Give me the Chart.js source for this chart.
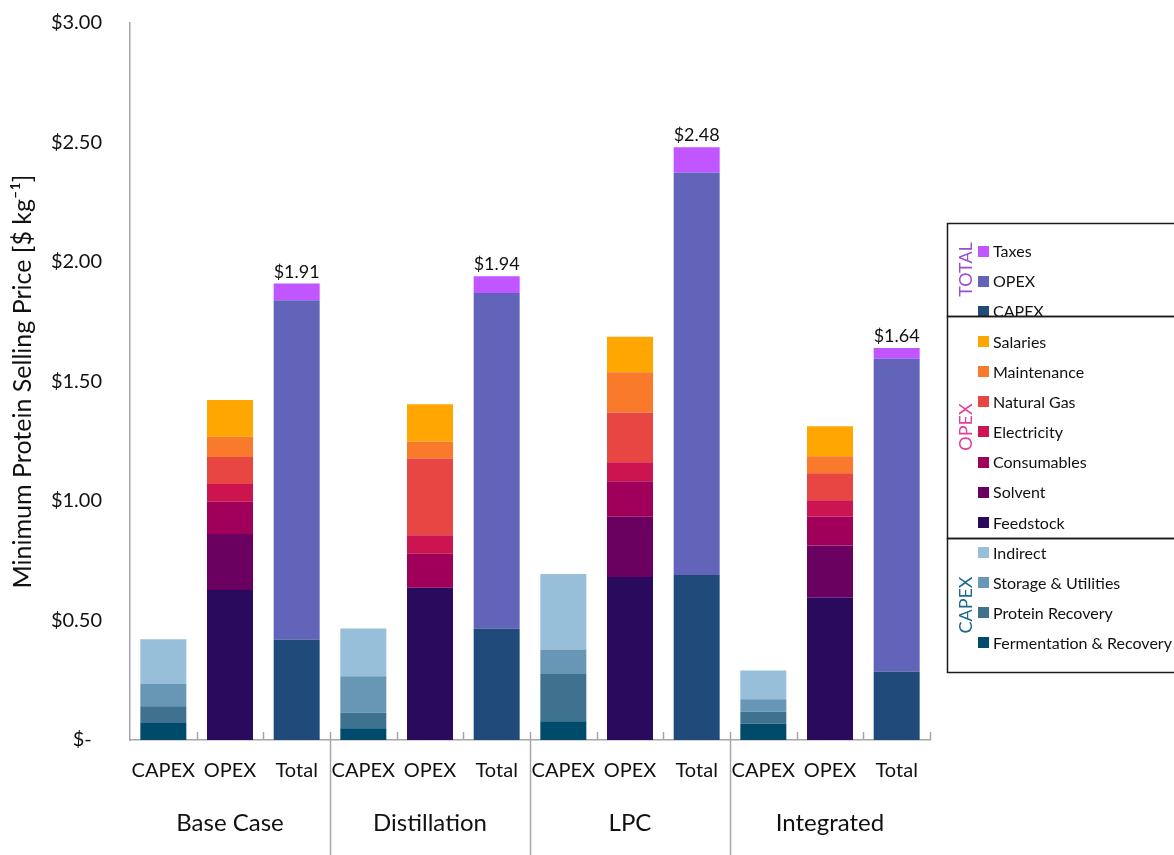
<!DOCTYPE html>
<html>
<head>
<meta charset="utf-8">
<script src="https://cdn.jsdelivr.net/npm/chart.js@4.4.1/dist/chart.umd.min.js"></script>
<style>
  html, body { margin: 0; padding: 0; background: #ffffff; }
  #wrap { position: relative; width: 1174px; height: 855px; }
  canvas { display: block; }
</style>
</head>
<body>
<div id="wrap"><canvas id="chart" width="1174" height="855"></canvas></div>
<script>
// Scenarios and bar kinds within each scenario
const groups = ['Base Case', 'Distillation', 'LPC', 'Integrated'];
const barKinds = ['CAPEX', 'OPEX', 'Total'];

// CAPEX breakdown ($ per kg)
const fermentationRecovery = [0.071, 0.049, 0.078, 0.068];
const proteinRecovery      = [0.070, 0.065, 0.198, 0.050];
const storageUtilities     = [0.093, 0.153, 0.103, 0.052];
const indirectCapex        = [0.188, 0.200, 0.316, 0.121];

// OPEX breakdown ($ per kg)
const feedstock   = [0.628, 0.637, 0.682, 0.595];
const solvent     = [0.234, 0.000, 0.252, 0.219];
const consumables = [0.135, 0.142, 0.149, 0.121];
const electricity = [0.074, 0.078, 0.079, 0.068];
const naturalGas  = [0.113, 0.321, 0.208, 0.113];
const maintenance = [0.085, 0.071, 0.169, 0.071];
const salaries    = [0.154, 0.156, 0.148, 0.126];

// Total price build-up ($ per kg)
const totalCapex = [0.420, 0.465, 0.690, 0.287];
const totalOpex  = [1.420, 1.405, 1.685, 1.308];
const taxes      = [0.070, 0.070, 0.105, 0.045];

// Y axis ticks
const yTicks = [0, 0.5, 1.0, 1.5, 2.0, 2.5, 3.0];

const FONT = 'Lato, "Open Sans", "DejaVu Sans", sans-serif';

// One label per bar: CAPEX / OPEX / Total for every scenario
const labels = groups.flatMap(() => barKinds);

// Place a scenario series on one bar kind (0 = CAPEX, 1 = OPEX, 2 = Total)
function onBar(values, kind) {
  return groups.flatMap((g, i) => barKinds.map((k, j) => (j === kind ? values[i] : null)));
}

function ds(label, values, kind, color, legendGroup) {
  return {
    label: label,
    data: onBar(values, kind),
    backgroundColor: color,
    borderWidth: 0,
    legendGroup: legendGroup,
    barKind: kind
  };
}

const datasets = [
  ds('Fermentation & Recovery', fermentationRecovery, 0, '#004b6b', 'CAPEX'),
  ds('Protein Recovery',        proteinRecovery,      0, '#3e728f', 'CAPEX'),
  ds('Storage & Utilities',     storageUtilities,     0, '#6897b5', 'CAPEX'),
  ds('Indirect',                indirectCapex,        0, '#98bfda', 'CAPEX'),
  ds('Feedstock',   feedstock,   1, '#290a5c', 'OPEX'),
  ds('Solvent',     solvent,     1, '#6a0060', 'OPEX'),
  ds('Consumables', consumables, 1, '#a1005a', 'OPEX'),
  ds('Electricity', electricity, 1, '#cc1450', 'OPEX'),
  ds('Natural Gas', naturalGas,  1, '#e84642', 'OPEX'),
  ds('Maintenance', maintenance, 1, '#f97a2a', 'OPEX'),
  ds('Salaries',    salaries,    1, '#ffa600', 'OPEX'),
  ds('CAPEX', totalCapex, 2, '#204a7a', 'TOTAL'),
  ds('OPEX',  totalOpex,  2, '#6264b9', 'TOTAL'),
  ds('Taxes', taxes,      2, '#c155ff', 'TOTAL')
];

const AXIS_GRAY = '#a6a6a6';

// Inner tick marks between bars, long separators between scenarios,
// scenario names, and price labels on top of the Total bars.
const decorations = {
  id: 'decorations',
  afterDatasetsDraw(chart) {
    const { ctx, scales: { x, y } } = chart;
    const base = y.getPixelForValue(0);
    const n = labels.length;
    ctx.save();
    ctx.strokeStyle = AXIS_GRAY;
    ctx.lineWidth = 1.5;
    for (let i = 1; i <= n; i++) {
      const px = i < n
        ? (x.getPixelForValue(i - 1) + x.getPixelForValue(i)) / 2
        : x.right;
      const bottom = (i % 3 === 0 && i < n) ? chart.height : base;
      ctx.beginPath();
      ctx.moveTo(Math.round(px) + 0.5, base - 8);
      ctx.lineTo(Math.round(px) + 0.5, bottom);
      ctx.stroke();
    }

    // scenario names under each group of three bars
    ctx.fillStyle = '#111111';
    ctx.font = '24px ' + FONT;
    ctx.textAlign = 'center';
    ctx.textBaseline = 'middle';
    groups.forEach((g, i) => {
      const cx = x.getPixelForValue(i * 3 + 1);
      ctx.fillText(g, cx, 823);
    });

    // price labels above the Total bars
    ctx.font = '18px ' + FONT;
    ctx.textBaseline = 'alphabetic';
    groups.forEach((g, i) => {
      const idx = i * 3 + 2;
      let sum = 0;
      chart.data.datasets.forEach(d => {
        if (d.barKind === 2 && d.data[idx] != null) sum += d.data[idx];
      });
      const top = y.getPixelForValue(sum);
      ctx.fillText('$' + sum.toFixed(2), x.getPixelForValue(idx), top - 6);
    });
    ctx.restore();
  }
};

// Grouped, boxed legend on the right
const groupedLegend = {
  id: 'groupedLegend',
  afterDraw(chart) {
    const { ctx } = chart;
    const order = chart.data.datasets.slice().reverse();
    const left = 947;
    const startY = 251;
    const step = 30.15;
    const boxes = [
      { name: 'TOTAL', color: '#9b4fcf', top: 223, bottom: 316 },
      { name: 'OPEX',  color: '#e0409a', top: 316, bottom: 538 },
      { name: 'CAPEX', color: '#1f6a8a', top: 538, bottom: 672 }
    ];
    ctx.save();
    ctx.textBaseline = 'middle';
    ctx.textAlign = 'left';
    ctx.font = '16px ' + FONT;
    order.forEach((d, i) => {
      const cy = startY + i * step;
      ctx.fillStyle = d.backgroundColor;
      ctx.fillRect(978, Math.round(cy - 5.5), 11, 11);
      ctx.fillStyle = '#111111';
      ctx.fillText(d.label, 993, cy + 1);
    });

    // rotated group names, centred in their boxes
    ctx.font = '18px ' + FONT;
    ctx.textAlign = 'center';
    boxes.forEach(b => {
      ctx.save();
      ctx.translate(966, (b.top + b.bottom) / 2);
      ctx.rotate(-Math.PI / 2);
      ctx.fillStyle = b.color;
      ctx.fillText(b.name, 0, 0);
      ctx.restore();
    });

    // box outlines drawn last
    ctx.strokeStyle = '#1a1a1a';
    ctx.lineWidth = 1.5;
    boxes.forEach(b => {
      ctx.strokeRect(left + 0.5, b.top + 0.5, 1174 - left + 10, b.bottom - b.top);
    });
    ctx.restore();
  }
};

new Chart(document.getElementById('chart'), {
  type: 'bar',
  data: { labels: labels, datasets: datasets },
  options: {
    responsive: false,
    devicePixelRatio: 1,
    animation: false,
    events: [],
    layout: { padding: { left: 0, right: 244, top: 23, bottom: 0 } },
    datasets: { bar: { categoryPercentage: 1.0, barPercentage: 0.69, skipNull: true } },
    plugins: {
      legend: { display: false },
      tooltip: { enabled: false }
    },
    scales: {
      x: {
        stacked: true,
        grid: { display: false, drawTicks: false },
        border: { display: true, color: AXIS_GRAY, width: 1.5 },
        ticks: {
          color: '#111111',
          font: { family: FONT, size: 20 },
          padding: 19,
          maxRotation: 0,
          autoSkip: false
        },
        afterFit(scale) { scale.height = 115; }
      },
      y: {
        stacked: true,
        min: 0,
        max: 3,
        afterBuildTicks(scale) { scale.ticks = yTicks.map(v => ({ value: v })); },
        grid: { display: false, drawTicks: false },
        border: { display: true, color: AXIS_GRAY, width: 1.5 },
        ticks: {
          color: '#111111',
          font: { family: FONT, size: 20 },
          padding: 28,
          callback: v => (v === 0 ? '$-  ' : '$' + Number(v).toFixed(2))
        },
        title: {
          display: true,
          text: 'Minimum Protein Selling Price [$ kg\u207B\u00B9]',
          color: '#111111',
          font: { family: FONT, size: 25 },
          padding: { top: 8, bottom: 0 }
        },
        afterFit(scale) {
          scale.width = 130;
          scale.paddingTop = 0;
          scale.paddingBottom = 0;
        }
      }
    }
  },
  plugins: [decorations, groupedLegend]
});
</script>
</body>
</html>
